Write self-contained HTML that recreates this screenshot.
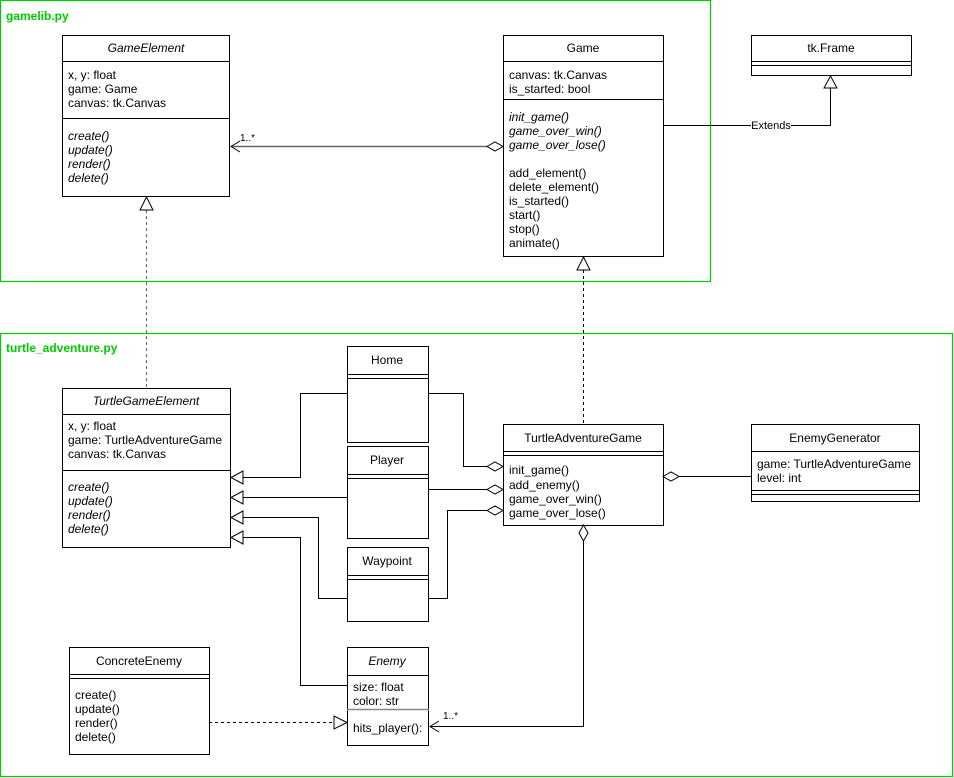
<!DOCTYPE html>
<html><head><style>body{margin:0;background:#fff}svg{display:block}text{font-family:"Liberation Sans",Arial,sans-serif;font-size:12px;fill:#000}.i{font-style:italic}.c{text-anchor:middle}</style></head><body>
<svg width="954" height="778" viewBox="0 0 954 778" xmlns="http://www.w3.org/2000/svg">
<g fill="none" stroke="#00cc00" stroke-width="1.2">
<rect x="0.5" y="0.5" width="710" height="281"/>
<rect x="0.5" y="333.5" width="952" height="443"/>
</g>
<text x="6" y="20" style="font-weight:bold;fill:#00cc00">gamelib.py</text>
<text x="6" y="352" style="font-weight:bold;fill:#00cc00">turtle_adventure.py</text>

<g fill="#fff" stroke="#000" stroke-width="1">
<rect x="62.5" y="35.5" width="167" height="161"/>
<rect x="503.5" y="35.5" width="160" height="221"/>
<rect x="751.5" y="35.5" width="160" height="40"/>
<rect x="62.5" y="388.5" width="168" height="159"/>
<rect x="347.5" y="346.5" width="81" height="96"/>
<rect x="347.5" y="446.5" width="81" height="92"/>
<rect x="347.5" y="547.5" width="81" height="74"/>
<rect x="347.5" y="647.5" width="81" height="98"/>
<rect x="503.5" y="424.5" width="160" height="101"/>
<rect x="751.5" y="424.5" width="168" height="77"/>
<rect x="69.5" y="647.5" width="140" height="107"/>
</g>
<g stroke="#000" stroke-width="1" fill="none">
<path d="M62 61.5H230M62 118.5H230"/>
<path d="M503 61.5H664M503 99.5H664"/>
<path d="M751 61.5H912M751 65.5H912"/>
<path d="M62 414.5H231M62 470.5H231"/>
<path d="M347 374.5H429M347 378.5H429"/>
<path d="M347 474.5H429M347 478.5H429"/>
<path d="M347 575.5H429M347 579.5H429"/>
<path d="M347 675.5H429"/>
<path d="M347 709.5H429" stroke="#888" stroke-width="1.5"/>
<path d="M503 451.5H664M503 455.5H664"/>
<path d="M751 451.5H920M751 490.5H920M751 494.5H920"/>
<path d="M69 674.5H210M69 678.5H210"/>
</g>

<!-- connectors -->
<g stroke="#000" stroke-width="1" fill="none">
<path d="M231 146.5H487" stroke="#666" stroke-width="1.5"/>
<path d="M240 141L231 146.5L240 152"/>
<path d="M487 146.5L495 142L503 146.5L495 151Z" fill="#fff"/>
<path d="M663 125.5H830.5V88"/>
<path d="M830.5 76L824 88H837Z" fill="#fff"/>
<path d="M146.5 210V388" stroke-dasharray="3,3" stroke="#666"/>
<path d="M146.5 197L140 210H153Z" fill="#fff"/>
<path d="M583.5 270V424" stroke-dasharray="3,3"/>
<path d="M583.5 257L577 270H590Z" fill="#fff"/>

<path d="M428 393.5H463.5V466.5H487"/>
<path d="M487 466.5L495 462L503 466.5L495 471Z" fill="#fff"/>
<path d="M428 489.5H487"/>
<path d="M487 489.5L495 485L503 489.5L495 494Z" fill="#fff"/>
<path d="M428 598.5H447.5V510.5H487"/>
<path d="M487 510.5L495 506L503 510.5L495 515Z" fill="#fff"/>

<path d="M347 393.5H300.5V477.5H243"/>
<path d="M231 477.5L243 471V484Z" fill="#fff"/>
<path d="M347 497.5H243"/>
<path d="M231 497.5L243 491V504Z" fill="#fff"/>
<path d="M347 598.5H318.5V517.5H243"/>
<path d="M231 517.5L243 511V524Z" fill="#fff"/>
<path d="M347 685.5H300.5V537.5H243"/>
<path d="M231 537.5L243 531V544Z" fill="#fff"/>

<path d="M663 476.5H751"/>
<path d="M663 476.5L671 472L679 476.5L671 481Z" fill="#fff"/>
<path d="M583.5 541V726.5H430"/>
<path d="M583.5 525L579 533L583.5 541L588 533Z" fill="#fff"/>
<path d="M439 721L430 726.5L439 732"/>
<path d="M209 722.5H334" stroke-dasharray="3,3"/>
<path d="M347 722.5L334 716V729Z" fill="#fff"/>
</g>
<rect x="751" y="118" width="40" height="14" fill="#fff"/>
<text x="771" y="129" class="c" style="font-size:11px">Extends</text>
<text x="240" y="141" style="font-size:10px">1..*</text>
<text x="443" y="719" style="font-size:10px">1..*</text>

<text x="146" y="52" class="c i">GameElement</text>
<text x="68" y="79">x, y: float</text>
<text x="68" y="93">game: Game</text>
<text x="68" y="107">canvas: tk.Canvas</text>
<text x="68" y="140" class="i">create()</text>
<text x="68" y="154" class="i">update()</text>
<text x="68" y="168" class="i">render()</text>
<text x="68" y="182" class="i">delete()</text>

<text x="583" y="52" class="c">Game</text>
<text x="509" y="79">canvas: tk.Canvas</text>
<text x="509" y="93">is_started: bool</text>
<text x="509" y="121" class="i">init_game()</text>
<text x="509" y="135" class="i">game_over_win()</text>
<text x="509" y="149" class="i">game_over_lose()</text>
<text x="509" y="177">add_element()</text>
<text x="509" y="191">delete_element()</text>
<text x="509" y="205">is_started()</text>
<text x="509" y="219">start()</text>
<text x="509" y="233">stop()</text>
<text x="509" y="247">animate()</text>

<text x="831" y="52" class="c">tk.Frame</text>

<text x="146" y="405" class="c i">TurtleGameElement</text>
<text x="68" y="430">x, y: float</text>
<text x="68" y="444">game: TurtleAdventureGame</text>
<text x="68" y="458">canvas: tk.Canvas</text>
<text x="68" y="491" class="i">create()</text>
<text x="68" y="505" class="i">update()</text>
<text x="68" y="519" class="i">render()</text>
<text x="68" y="533" class="i">delete()</text>

<text x="387" y="364" class="c">Home</text>
<text x="387" y="464" class="c">Player</text>
<text x="387" y="565" class="c">Waypoint</text>
<text x="387" y="665" class="c i">Enemy</text>
<text x="353" y="691">size: float</text>
<text x="353" y="705">color: str</text>
<text x="353" y="732">hits_player():</text>

<text x="583" y="442" class="c">TurtleAdventureGame</text>
<text x="509" y="474">init_game()</text>
<text x="509" y="489">add_enemy()</text>
<text x="509" y="503">game_over_win()</text>
<text x="509" y="517">game_over_lose()</text>

<text x="835" y="442" class="c">EnemyGenerator</text>
<text x="757" y="468">game: TurtleAdventureGame</text>
<text x="757" y="482">level: int</text>

<text x="139" y="665" class="c">ConcreteEnemy</text>
<text x="75" y="699">create()</text>
<text x="75" y="713">update()</text>
<text x="75" y="727">render()</text>
<text x="75" y="741">delete()</text>
</svg>
</body></html>
